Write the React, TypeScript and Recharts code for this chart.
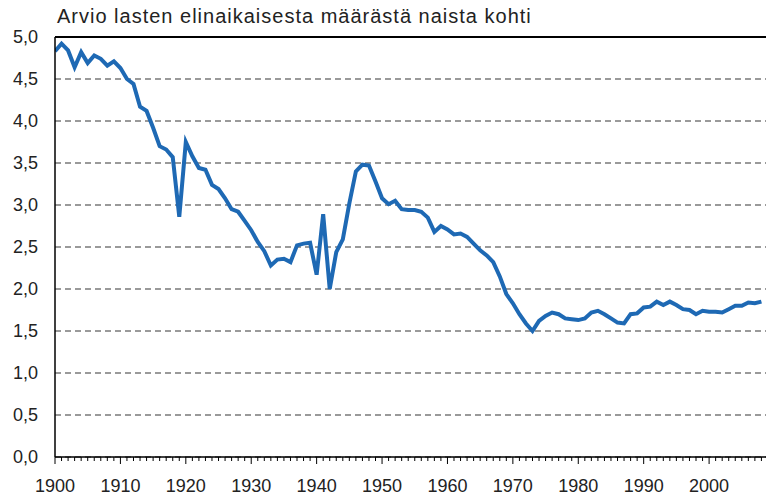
import React from 'react';
import { LineChart, Line, XAxis, YAxis, CartesianGrid, ReferenceLine } from 'recharts';

const years: number[] = [
  1900, 1901, 1902, 1903, 1904, 1905, 1906, 1907, 1908, 1909,
  1910, 1911, 1912, 1913, 1914, 1915, 1916, 1917, 1918, 1919,
  1920, 1921, 1922, 1923, 1924, 1925, 1926, 1927, 1928, 1929,
  1930, 1931, 1932, 1933, 1934, 1935, 1936, 1937, 1938, 1939,
  1940, 1941, 1942, 1943, 1944, 1945, 1946, 1947, 1948, 1949,
  1950, 1951, 1952, 1953, 1954, 1955, 1956, 1957, 1958, 1959,
  1960, 1961, 1962, 1963, 1964, 1965, 1966, 1967, 1968, 1969,
  1970, 1971, 1972, 1973, 1974, 1975, 1976, 1977, 1978, 1979,
  1980, 1981, 1982, 1983, 1984, 1985, 1986, 1987, 1988, 1989,
  1990, 1991, 1992, 1993, 1994, 1995, 1996, 1997, 1998, 1999,
  2000, 2001, 2002, 2003, 2004, 2005, 2006, 2007, 2008,
];

const fertility: number[] = [
  4.83, 4.92, 4.84, 4.64, 4.82, 4.69, 4.78, 4.74, 4.66, 4.71,
  4.63, 4.50, 4.44, 4.17, 4.12, 3.92, 3.70, 3.66, 3.57, 2.86,
  3.75, 3.58, 3.44, 3.42, 3.24, 3.19, 3.08, 2.95, 2.92, 2.81,
  2.70, 2.56, 2.45, 2.28, 2.35, 2.36, 2.32, 2.52, 2.54, 2.55,
  2.17, 2.89, 2.00, 2.44, 2.59, 3.02, 3.40, 3.48, 3.47, 3.28,
  3.08, 3.01, 3.05, 2.95, 2.94, 2.94, 2.92, 2.85, 2.68, 2.75,
  2.71, 2.65, 2.66, 2.62, 2.54, 2.46, 2.40, 2.32, 2.15, 1.94,
  1.83, 1.70, 1.59, 1.50, 1.62, 1.68, 1.72, 1.70, 1.65, 1.64,
  1.63, 1.65, 1.72, 1.74, 1.70, 1.65, 1.60, 1.59, 1.70, 1.71,
  1.78, 1.79, 1.85, 1.81, 1.85, 1.81, 1.76, 1.75, 1.70, 1.74,
  1.73, 1.73, 1.72, 1.76, 1.80, 1.80, 1.84, 1.83, 1.85,
];

const yTicks: number[] = [0, 0.5, 1, 1.5, 2, 2.5, 3, 3.5, 4, 4.5, 5];
const xLabelYears: number[] = [1900, 1910, 1920, 1930, 1940, 1950, 1960, 1970, 1980, 1990, 2000];
const titleText = 'Arvio lasten elinaikaisesta määrästä naista kohti';

const data = years.map((y, i) => ({ year: y, value: fertility[i] }));

const FONT = "'Liberation Sans', Arial, sans-serif";

const XTick = (props: any) => {
  const { x, y, payload } = props;
  const v = payload.value as number;
  const major = v % 10 === 0;
  const showLabel = xLabelYears.includes(v);
  return (
    <g>
      <line x1={x} x2={x} y1={y} y2={y + (major ? 7 : 4)} stroke="#000" strokeWidth={1} />
      {showLabel && (
        <text x={x} y={y + 35} textAnchor="middle" fontFamily={FONT} fontSize={18} fill="#222">
          {v}
        </text>
      )}
    </g>
  );
};

export default function App() {
  return (
    <div style={{ position: 'absolute', left: 0, top: 0, width: 766, height: 496, background: '#fff' }}>
      <div
        style={{
          position: 'absolute',
          left: 57,
          top: 5,
          fontFamily: FONT,
          fontSize: 20,
          letterSpacing: 1,
          color: '#222',
          whiteSpace: 'nowrap',
        }}
      >
        {titleText}
      </div>
      <div style={{ position: 'absolute', left: 0, top: 0 }}>
        <LineChart width={766} height={496} data={data} margin={{ top: 37, right: 0, left: 0, bottom: 0 }}>
          <CartesianGrid vertical={false} stroke="#9a9a9a" strokeWidth={2} strokeDasharray="6 4" />
          <XAxis
            dataKey="year"
            type="number"
            domain={[1900, 2008.7]}
            ticks={years}
            interval={0}
            tick={<XTick />}
            tickLine={false}
            tickSize={0}
            tickMargin={0}
            height={39}
            axisLine={{ stroke: '#000', strokeWidth: 1.5 }}
            allowDataOverflow
          />
          <YAxis
            type="number"
            domain={[0, 5]}
            ticks={yTicks}
            interval={0}
            width={55}
            tickLine={false}
            tickSize={0}
            tickMargin={17}
            axisLine={{ stroke: '#000', strokeWidth: 1.5 }}
            tick={{ fontFamily: FONT, fontSize: 18, fill: '#222' }}
            tickFormatter={(v: number) => v.toFixed(1).replace('.', ',')}
          />
          <ReferenceLine y={5} stroke="#000" strokeWidth={2} />
          <Line
            type="linear"
            dataKey="value"
            stroke="#1E69B4"
            strokeWidth={4}
            dot={false}
            isAnimationActive={false}
          />
        </LineChart>
      </div>
    </div>
  );
}
